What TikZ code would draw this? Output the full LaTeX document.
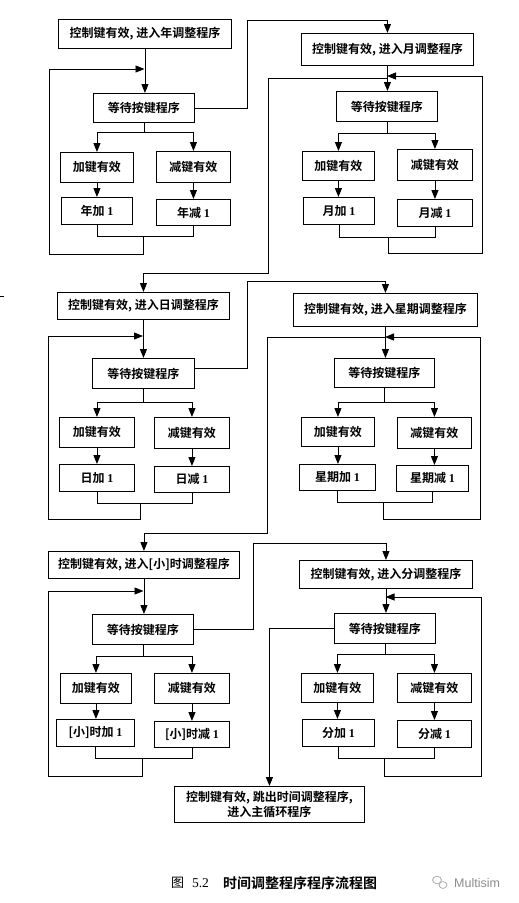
\documentclass[tikz,border=0pt]{standalone}
\usepackage{fontspec}
\setmainfont{Noto Sans CJK SC}[BoldFont={Noto Sans CJK SC Bold}]
\newfontfamily\latinserif{Liberation Serif}
\newfontfamily\latinsans{Liberation Sans}
\usetikzlibrary{arrows.meta}
\newcommand\one{{\latinserif 1}}
\newcommand\mybox[6]{\node[box, minimum width=#4pt, minimum height=#5pt] (#1) at (#2,#3) {#6};}
\begin{document}
\begin{tikzpicture}[x=1pt,y=-1pt,
  box/.style={draw, line width=0.9pt, inner sep=0pt, anchor=north west, font=\bfseries\fontsize{12}{15}\selectfont},
  arr/.style={-{Triangle[width=7pt,length=9pt]}, line width=0.9pt},
  ln/.style={line width=0.9pt},
  wm/.style={text=black!45, font=\latinsans\fontsize{12.5}{14}\selectfont}]
\fill[white] (0,0) rectangle (519,903);
\useasboundingbox (0,0) rectangle (519,903);

% ================= nodes =================
% year
\mybox{A1}{58}{19}{173}{29}{控制键有效, 进入年调整程序}
\mybox{W1}{93}{93}{101}{29}{等待按键程序}
\mybox{P1}{60}{152}{73}{30}{加键有效}
\mybox{M1}{156}{151}{74}{31}{减键有效}
\mybox{PP1}{61}{197}{71}{27}{年加 \one}
\mybox{MM1}{156}{199}{74}{26}{年减 \one}
% month
\mybox{A2}{301}{33}{172}{32}{控制键有效, 进入月调整程序}
\mybox{W2}{336}{91}{101}{30}{等待按键程序}
\mybox{P2}{302}{151}{72}{29}{加键有效}
\mybox{M2}{397}{149}{75}{31}{减键有效}
\mybox{PP2}{303}{197}{71}{27}{月加 \one}
\mybox{MM2}{397}{199}{75}{27}{月减 \one}
% day
\mybox{A3}{57}{292}{172}{27}{控制键有效, 进入日调整程序}
\mybox{W3}{92}{358}{102}{30}{等待按键程序}
\mybox{P3}{59}{417}{75}{30}{加键有效}
\mybox{M3}{154}{417}{75}{31}{减键有效}
\mybox{PP3}{59}{464}{75}{27}{日加 \one}
\mybox{MM3}{154}{466}{75}{26}{日减 \one}
% week
\mybox{A4}{293}{293}{184}{33}{控制键有效, 进入星期调整程序}
\mybox{W4}{334}{358}{100}{29}{等待按键程序}
\mybox{P4}{301}{417}{73}{29}{加键有效}
\mybox{M4}{397}{417}{74}{31}{减键有效}
\mybox{PP4}{299}{464}{76}{26}{星期加 \one}
\mybox{MM4}{396}{465}{72}{26}{星期减 \one}
% hour
\mybox{A5}{48}{551}{191}{27}{控制键有效, 进入[小]时调整程序}
\mybox{W5}{92}{614}{101}{30}{等待按键程序}
\mybox{P5}{60}{673}{71}{30}{加键有效}
\mybox{M5}{154}{673}{75}{30}{减键有效}
\mybox{PP5}{56}{719}{78}{27}{[小]时加 \one}
\mybox{MM5}{154}{721}{75}{26}{[小]时减 \one}
% minute
\mybox{A6}{299}{560}{173}{28}{控制键有效, 进入分调整程序}
\mybox{W6}{334}{613}{101}{30}{等待按键程序}
\mybox{P6}{301}{673}{72}{29}{加键有效}
\mybox{M6}{397}{673}{74}{29}{减键有效}
\mybox{PP6}{302}{719}{72}{27}{分加 \one}
\mybox{MM6}{397}{720}{74}{27}{分减 \one}
% exit
\node[box, align=center, minimum width=190pt, minimum height=36pt] (F) at (174,786)
  {控制键有效, 跳出时间调整程序,\\进入主循环程序};

% junction coordinates
\coordinate (L1) at (144.5,69);
\coordinate (L2) at (387,76);
\coordinate (J2) at (387,78);
\coordinate (L3) at (143,336);
\coordinate (L4) at (385,337);
\coordinate (J4) at (385,337);
\coordinate (L5) at (143.5,591);
\coordinate (L6) at (385.5,597);

% ================= connectors =================
% year
\draw[arr] (A1.south) -- (A1.south |- W1.north);
\draw[arr] (W1.south) -- ++(0,10) -| (P1.north);
\draw[arr] (W1.south) -- ++(0,10) -| (M1.north);
\draw[arr] (P1.south) -- (P1.south |- PP1.north);
\draw[arr] (M1.south) -- (M1.south |- MM1.north);
\draw[ln] (PP1.south) -- ++(0,12) -| (MM1.south);
\draw[arr] (143,236) -- (143,254) -- (49,254) |- (L1);
\draw[arr] (W1.east) -| (247,20) -| (A2.north);
% month
\draw[arr] (A2.south) -- (A2.south |- W2.north);
\draw[arr] (W2.south) -- ++(0,12) -| (P2.north);
\draw[arr] (W2.south) -- ++(0,12) -| (M2.north);
\draw[arr] (P2.south) -- (P2.south |- PP2.north);
\draw[arr] (M2.south) -- (M2.south |- MM2.north);
\draw[ln] (PP2.south) -- ++(0,13) -| (MM2.south);
\draw[arr] (388,237) -- (388,253) -- (482,253) |- (L2);
\draw[arr] (J2) -| (268,273) -| (A3.north);
% day
\draw[arr] (A3.south) -- (A3.south |- W3.north);
\draw[arr] (W3.south) -- ++(0,14) -| (P3.north);
\draw[arr] (W3.south) -- ++(0,14) -| (M3.north);
\draw[arr] (P3.south) -- (P3.south |- PP3.north);
\draw[arr] (M3.south) -- (M3.south |- MM3.north);
\draw[ln] (PP3.south) -- ++(0,12) -| (MM3.south);
\draw[arr] (140,503) -- (140,519) -- (48,519) |- (L3);
\draw[arr] ([yshift=5pt]W3.east) -| (247,281) -| (A4.north);
% week
\draw[arr] (A4.south) -- (A4.south |- W4.north);
\draw[arr] (W4.south) -- ++(0,15) -| (P4.north);
\draw[arr] (W4.south) -- ++(0,15) -| (M4.north);
\draw[arr] (P4.south) -- (P4.south |- PP4.north);
\draw[arr] (M4.south) -- (M4.south |- MM4.north);
\draw[ln] (PP4.south) -- ++(0,12) -| (MM4.south);
\draw[arr] (383,502) -- (383,519) -- (480,519) |- (L4);
\draw[arr] (J4) -| (267,533) -| (A5.north);
% hour
\draw[arr] (A5.south) -- (A5.south |- W5.north);
\draw[arr] (W5.south) -- ++(0,12) -| (P5.north);
\draw[arr] (W5.south) -- ++(0,12) -| (M5.north);
\draw[arr] (P5.south) -- (P5.south |- PP5.north);
\draw[arr] (M5.south) -- (M5.south |- MM5.north);
\draw[ln] (PP5.south) -- ++(0,12) -| (MM5.south);
\draw[arr] (142,758) -- (142,776) -- (48,776) |- (L5);
\draw[arr] (W5.east) -| (253,543) -| (A6.north);
% minute
\draw[arr] (A6.south) -- (A6.south |- W6.north);
\draw[arr] (W6.south) -- ++(0,11) -| (P6.north);
\draw[arr] (W6.south) -- ++(0,11) -| (M6.north);
\draw[arr] (P6.south) -- (P6.south |- PP6.north);
\draw[arr] (M6.south) -- (M6.south |- MM6.north);
\draw[ln] (PP6.south) -- ++(0,12) -| (MM6.south);
\draw[arr] (384,758) -- (384,776) -- (481,776) |- (L6);
\draw[arr] (W6.west) -| (F.north);

% ================= caption =================
\node[font=\fontsize{13}{15}\selectfont, inner sep=0pt] (cap1) at (177.5,883) {图};
\node[font=\latinserif\fontsize{13.5}{15}\selectfont, inner sep=0pt] (cap2) at (200.5,883) {5.2};
\node[font=\bfseries\fontsize{14}{16}\selectfont, inner sep=0pt] (cap3) at (300,883) {时间调整程序程序流程图};

% ================= watermark =================
\draw[black!35, line width=0.7pt] (437,880) ellipse (4.5pt and 3.8pt);
\draw[black!35, line width=0.7pt] (443,885) ellipse (4pt and 3.4pt);
\node[wm, anchor=west, inner sep=0pt] (wmk) at (454,883) {Multisim};

\draw[line width=0.8pt] (0,296) -- (4,296);
\end{tikzpicture}
\end{document}
